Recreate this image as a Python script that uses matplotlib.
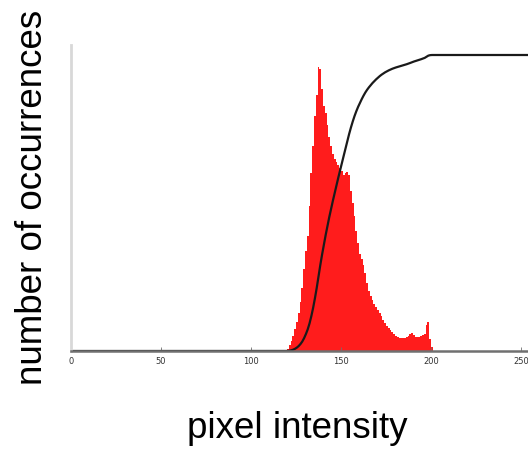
import matplotlib
matplotlib.use("Agg")
import matplotlib.pyplot as plt
import numpy as np

# histogram of pixel intensities (bins 118..201, everything else is zero)
first_bin = 118
counts = [0, 1, 2, 6, 10, 15, 22, 29, 38, 49,
          63, 82, 100, 115, 145, 178, 205, 235, 256, 284,
          282, 262, 245, 238, 226, 214, 205, 197, 192, 189,
          186, 183, 180, 176, 178, 179, 176, 160, 148, 135,
          120, 108, 97, 92, 86, 78, 68, 60, 55, 51,
          47, 44, 41, 38, 35, 31, 28, 25, 23, 21,
          19, 17, 15, 14, 13, 13, 13, 13, 14, 15,
          17, 18, 16, 14, 14, 14, 15, 16, 17, 26,
          29, 12, 4, 0]
xticks = [0, 50, 100, 150, 200, 250]

# ---------------- settings ---------------- #
W, H, dpi = 528, 449, 100
bar_color = "#ff1c1c"
label_font = 26.5
tick_font = 6

hist = np.zeros(256)
hist[first_bin:first_bin + len(counts)] = counts
levels = np.arange(256)

# cumulative distribution, scaled so it tops out just below the axes top
cdf = np.cumsum(hist) / hist.sum()
ymax = 306
cdf_top = 296

fig = plt.figure(figsize=(W / dpi, H / dpi), dpi=dpi)
ax = fig.add_axes([71 / W, 98 / H, 460.8 / W, 306 / H])

ax.bar(levels, hist, width=1.0, align="edge", color=bar_color,
       edgecolor="none", linewidth=0)
ax.plot(levels + 0.5, cdf * cdf_top, color="#1a1a1a", lw=1.6)

ax.set_xlim(0, 256)
ax.set_ylim(0, ymax)

# axes styling
for s in ["top", "right"]:
    ax.spines[s].set_visible(False)
ax.spines["left"].set_color("#d8d8d8")
ax.spines["left"].set_linewidth(2)
ax.spines["bottom"].set_color("#707070")
ax.spines["bottom"].set_linewidth(1.8)

ax.set_yticks([])
ax.set_xticks(xticks)
ax.tick_params(axis="x", direction="in", length=3, width=0.6, color="#707070",
               labelsize=tick_font, labelcolor="#333333", pad=4)

fig.text(297 / W, 1 - 428 / H, "pixel intensity", fontsize=label_font,
         family="Liberation Sans", ha="center", va="center")
fig.text(33 / W, 1 - 197 / H, "number of occurrences", fontsize=label_font,
         family="Liberation Sans", ha="center", va="center", rotation=90)

fig.savefig("out.png", dpi=dpi)
